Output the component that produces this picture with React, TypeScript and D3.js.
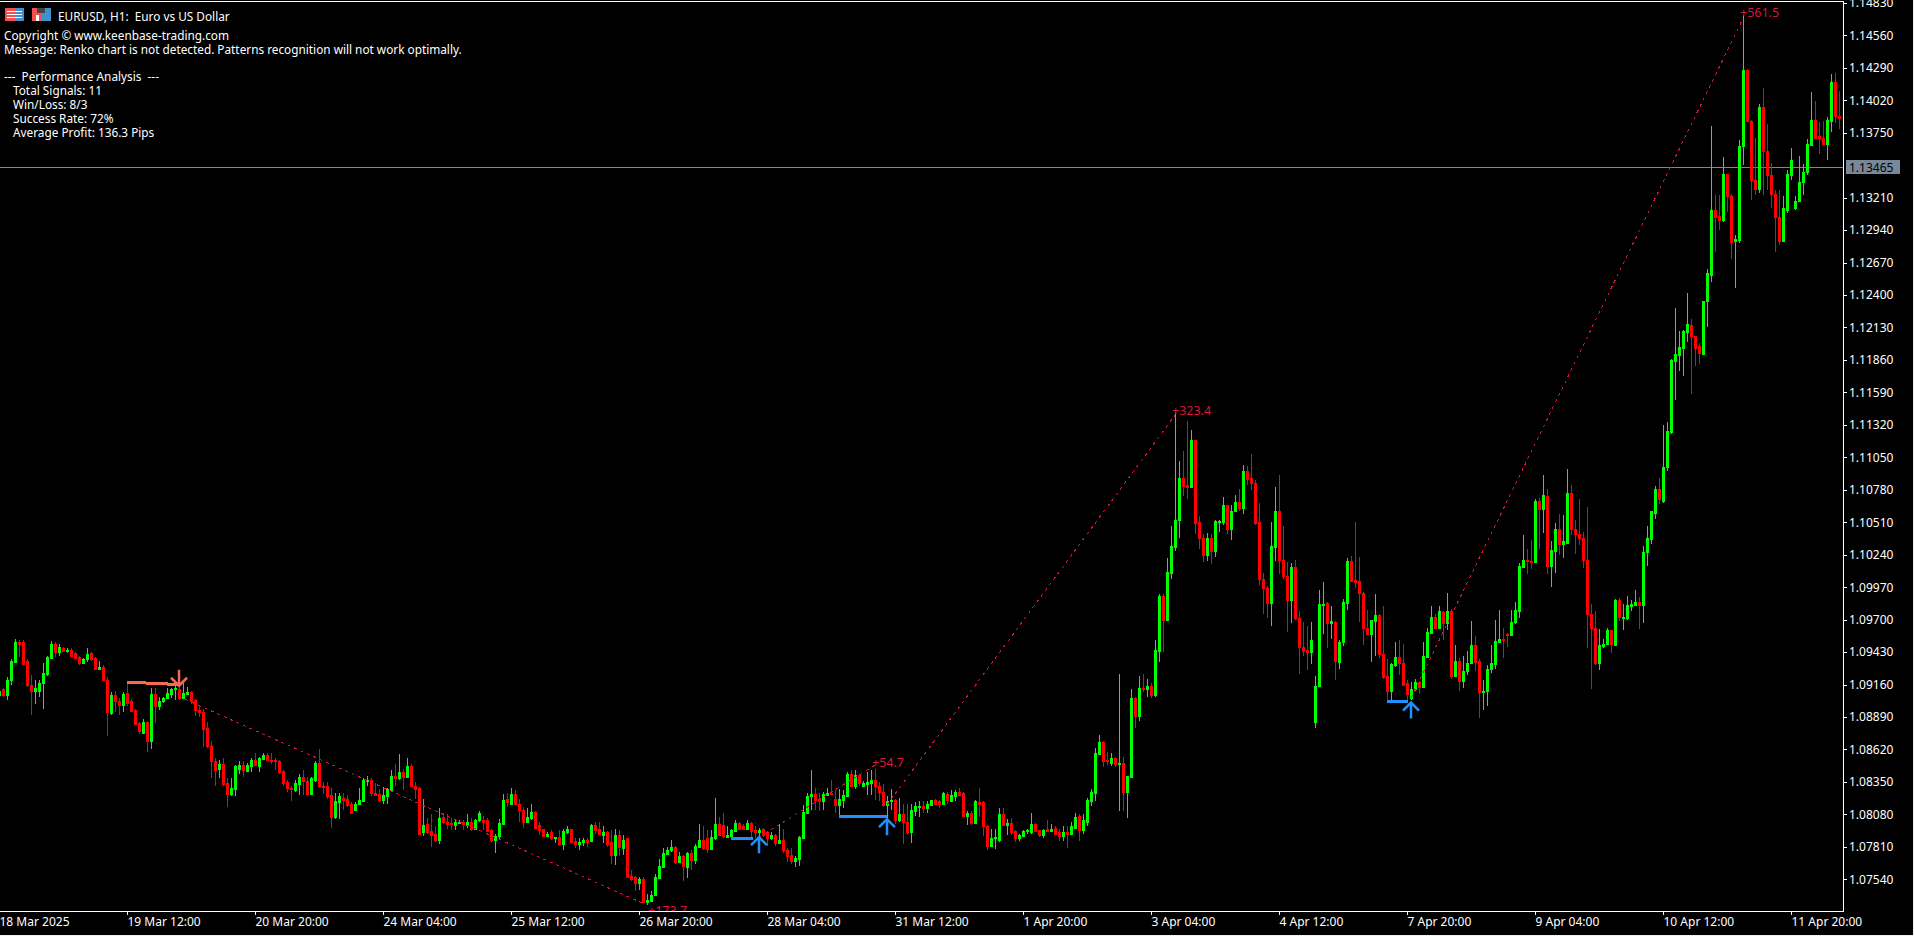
import * as d3 from "d3";
import { useEffect, useRef } from "react";

// EURUSD H1 candles, prices in pips (1.0912 -> 10912), one entry per bar
const opens = [10907,
10912,10907,10920,10935,10951,10951,10936,10916,10911,10911,
10917,10925,10938,10950,10943,10946,10944,10945,10942,10939,
10934,10937,10942,10938,10929,10931,10920,10892,10907,10902,
10899,10909,10902,10895,10884,10876,10885,10869,10908,10898,
10902,10905,10908,10912,10912,10905,10908,10910,10903,10895,
10893,10880,10865,10852,10846,10850,10834,10825,10829,10846,
10849,10844,10848,10853,10848,10854,10857,10853,10853,10852,
10844,10835,10830,10828,10833,10839,10836,10825,10837,10851,
10832,10832,10824,10806,10818,10822,10821,10817,10812,10817,
10819,10836,10837,10826,10825,10820,10823,10828,10840,10838,
10843,10839,10848,10832,10830,10793,10800,10794,10792,10787,
10806,10802,10801,10799,10801,10802,10799,10802,10796,10803,
10803,10803,10795,10787,10790,10800,10821,10817,10825,10817,
10812,10802,10805,10810,10799,10796,10790,10793,10788,10789,
10783,10793,10796,10786,10783,10785,10787,10786,10799,10796,
10791,10793,10785,10774,10791,10780,10788,10757,10756,10751,
10754,10735,10736,10741,10755,10764,10775,10778,10781,10768,
10773,10764,10776,10770,10781,10787,10788,10779,10788,10800,
10799,10789,10790,10794,10801,10798,10796,10801,10795,10793,
10796,10793,10788,10791,10784,10787,10778,10774,10769,10771,
10788,10809,10823,10825,10821,10819,10824,10826,10821,10816,
10820,10823,10842,10832,10841,10832,10833,10834,10837,10832,
10827,10816,10819,10820,10803,10808,10802,10793,10811,10814,
10815,10813,10816,10820,10819,10817,10825,10819,10823,10827,
10826,10807,10809,10801,10818,10818,10798,10782,10788,10787,
10808,10799,10801,10794,10788,10790,10794,10793,10800,10795,
10791,10796,10794,10797,10793,10790,10793,10792,10797,10807,
10795,10802,10819,10826,10858,10868,10853,10851,10855,10850,
10851,10827,10839,10905,10890,10913,10912,10915,10907,10944,
10990,10970,11009,11030,11053,11088,11082,11080,11119,11051,
11038,11024,11038,11027,11051,11051,11065,11045,11060,11068,
11063,11094,11088,11084,11051,11004,10996,10984,11030,11060,
11020,11006,10986,11014,10971,10947,10945,10943,10885,10915,
10982,10984,10967,10968,10935,10951,10984,11019,11003,11002,
10992,10963,10958,10969,10974,10941,10923,10911,10932,10939,
10934,10917,10905,10912,10918,10914,10939,10959,10972,10963,
10976,10967,10977,10923,10936,10919,10927,10934,10949,10936,
10910,10911,10929,10933,10951,10954,10958,10957,10968,10977,
11014,11020,11019,11018,11069,11062,11073,11015,11027,11045,
11033,11034,11075,11045,11041,11038,11020,10975,10963,10934,
10948,10950,10961,10949,10986,10971,10971,10981,10982,10985,
10982,11026,11037,11059,11079,11069,11097,11126,11185,11190,
11196,11209,11215,11206,11198,11191,11235,11257,11311,11306,
11302,11341,11322,11285,11286,11364,11427,11385,11336,11328,
11396,11360,11340,11324,11305,11285,11311,11340,11312,11318,
11334,11342,11365,11386,11372,11371,11366,11385,11417,11389];

const highs = [10912,
10913,10922,10937,10954,10953,10953,10937,10924,10920,10920,
10934,10940,10952,10951,10950,10947,10946,10946,10943,10940,
10938,10946,10943,10939,10936,10932,10922,10910,10911,10905,
10910,10917,10904,10896,10885,10887,10886,10913,10913,10906,
10906,10913,10913,10916,10917,10917,10914,10911,10904,10899,
10896,10885,10869,10855,10853,10855,10838,10838,10849,10852,
10852,10851,10855,10859,10856,10859,10859,10859,10855,10853,
10845,10837,10832,10837,10842,10845,10839,10839,10852,10862,
10835,10835,10830,10826,10826,10826,10824,10818,10818,10830,
10838,10840,10838,10834,10829,10831,10830,10845,10850,10858,
10846,10855,10850,10835,10831,10821,10805,10808,10798,10813,
10809,10808,10805,10803,10803,10803,10808,10805,10804,10811,
10807,10805,10796,10792,10804,10825,10826,10830,10828,10821,
10814,10813,10817,10811,10802,10796,10793,10795,10789,10795,
10796,10798,10796,10788,10788,10788,10788,10800,10802,10802,
10798,10794,10795,10796,10795,10791,10788,10762,10757,10756,
10756,10742,10744,10758,10771,10780,10781,10787,10782,10777,
10774,10777,10778,10783,10800,10798,10795,10795,10822,10806,
10809,10798,10796,10803,10802,10800,10803,10802,10798,10797,
10797,10794,10793,10792,10800,10796,10780,10780,10773,10790,
10816,10826,10845,10830,10826,10827,10830,10837,10828,10829,
10828,10843,10845,10845,10842,10836,10843,10845,10846,10835,
10833,10823,10829,10821,10822,10817,10817,10817,10818,10819,
10819,10819,10820,10821,10820,10827,10827,10828,10828,10830,
10827,10811,10811,10820,10830,10819,10799,10796,10796,10813,
10813,10804,10805,10795,10792,10795,10796,10809,10801,10795,
10796,10803,10800,10798,10796,10798,10798,10802,10809,10808,
10808,10822,10829,10863,10874,10869,10860,10859,10856,10925,
10856,10840,10912,10906,10923,10925,10921,10917,10953,10991,
10991,11021,11048,11143,11102,11110,11135,11128,11119,11056,
11041,11042,11041,11053,11053,11072,11065,11065,11074,11079,
11099,11098,11108,11086,11067,11009,10998,11051,11080,11090,
11048,11018,11017,11020,10977,10968,10965,10968,10923,10995,
11001,10985,10981,10969,10953,10987,11021,11023,11051,11022,
10993,10978,10970,10991,10975,10981,10937,10934,10951,10953,
10950,10920,10918,10921,10919,10951,10963,10981,10975,10981,
10977,10992,10979,10949,10938,10940,10944,10969,10956,10937,
10920,10932,10949,10970,10978,10963,10959,10978,10985,11017,
11040,11029,11036,11070,11071,11090,11079,11035,11050,11058,
11057,11095,11082,11053,11070,11043,11064,10983,10977,10962,
10954,10963,10961,10987,10988,10983,10990,10986,10995,10989,
11031,11048,11060,11081,11088,11132,11134,11187,11229,11210,
11211,11242,11220,11206,11200,11235,11262,11381,11323,11323,
11355,11341,11324,11290,11369,11473,11428,11386,11371,11399,
11412,11382,11350,11327,11327,11322,11344,11362,11322,11356,
11349,11370,11409,11401,11384,11385,11388,11424,11425,11410];

const lows = [10905,
10906,10903,10916,10934,10939,10932,10914,10891,10900,10906,
10896,10923,10938,10939,10940,10943,10942,10940,10937,10932,
10933,10935,10936,10928,10928,10919,10873,10891,10893,10891,
10893,10898,10893,10882,10875,10875,10860,10862,10884,10895,
10901,10904,10905,10903,10903,10904,10907,10900,10890,10889,
10864,10863,10838,10832,10838,10832,10814,10823,10823,10842,
10839,10843,10843,10848,10843,10853,10852,10850,10845,10842,
10832,10827,10819,10827,10824,10824,10824,10824,10835,10830,
10825,10821,10797,10804,10804,10812,10814,10808,10811,10816,
10818,10832,10823,10824,10818,10817,10817,10828,10832,10837,
10828,10838,10832,10821,10792,10790,10792,10781,10785,10783,
10800,10796,10795,10795,10800,10795,10797,10794,10795,10802,
10795,10793,10785,10776,10787,10799,10814,10816,10816,10802,
10797,10801,10803,10796,10791,10789,10789,10787,10784,10782,
10778,10792,10784,10780,10778,10782,10781,10785,10792,10791,
10784,10781,10767,10766,10773,10774,10755,10753,10744,10745,
10734,10733,10735,10740,10754,10764,10774,10777,10767,10768,
10753,10755,10762,10767,10781,10778,10776,10778,10787,10790,
10788,10788,10787,10793,10796,10795,10796,10789,10788,10785,
10789,10782,10787,10782,10783,10776,10768,10767,10764,10765,
10788,10809,10812,10812,10811,10812,10823,10824,10809,10806,
10813,10823,10831,10829,10832,10831,10824,10824,10820,10819,
10814,10805,10812,10800,10802,10783,10792,10784,10807,10806,
10809,10809,10816,10816,10813,10816,10817,10819,10819,10823,
10806,10799,10799,10800,10806,10790,10778,10781,10779,10785,
10798,10791,10791,10785,10786,10789,10792,10792,10793,10789,
10788,10794,10793,10792,10786,10786,10780,10791,10796,10786,
10792,10798,10815,10819,10857,10847,10849,10848,10847,10811,
10811,10805,10838,10880,10886,10910,10906,10905,10906,10935,
10943,10970,11004,11027,11038,11073,11070,11080,11041,11029,
11018,11019,11016,11022,11043,11049,11041,11036,11060,11060,
11058,11082,11078,11049,10999,10975,10971,10965,11019,11008,
11004,10960,10967,10970,10925,10940,10928,10933,10880,10915,
10958,10946,10954,10920,10929,10948,10978,11001,10996,10968,
10949,10957,10935,10940,10938,10921,10903,10903,10931,10924,
10916,10903,10903,10911,10908,10914,10939,10958,10962,10962,
10953,10961,10921,10922,10911,10913,10924,10933,10927,10888,
10895,10898,10926,10929,10951,10938,10947,10956,10966,10971,
11013,11008,11012,11017,11029,11042,11008,10997,11009,11024,
11021,11034,11040,11025,11032,11013,10946,10912,10932,10928,
10946,10949,10942,10949,10969,10961,10970,10977,10981,10962,
10967,11015,11033,11054,11066,11067,11094,11124,11153,11177,
11173,11201,11158,11181,11183,11190,11213,11251,11276,11294,
11301,11309,11270,11246,11283,11348,11384,11319,11323,11325,
11323,11327,11312,11276,11282,11284,11308,11336,11311,11317,
11323,11340,11364,11371,11357,11365,11352,11376,11383,11378];

const closes = [10911,
10907,10920,10936,10951,10950,10933,10916,10911,10913,10917,
10926,10939,10950,10943,10947,10944,10945,10940,10938,10934,
10937,10941,10937,10929,10931,10920,10893,10907,10902,10899,
10908,10901,10894,10883,10877,10885,10869,10908,10898,10902,
10905,10909,10912,10913,10905,10909,10910,10902,10895,10893,
10879,10865,10852,10845,10850,10833,10825,10830,10848,10849,
10845,10849,10853,10849,10855,10857,10853,10852,10852,10843,
10834,10830,10829,10834,10839,10836,10825,10838,10851,10832,
10831,10823,10806,10819,10823,10820,10816,10809,10817,10820,
10837,10837,10826,10824,10820,10824,10829,10840,10838,10843,
10839,10848,10832,10829,10792,10799,10793,10791,10787,10805,
10802,10800,10800,10802,10802,10800,10802,10796,10803,10809,
10802,10794,10787,10790,10801,10820,10818,10825,10817,10812,
10802,10806,10810,10797,10795,10790,10792,10788,10789,10783,
10794,10796,10785,10783,10785,10787,10785,10799,10795,10792,
10793,10783,10774,10791,10781,10787,10756,10754,10751,10754,
10735,10737,10741,10756,10765,10776,10778,10781,10768,10773,
10765,10776,10770,10782,10787,10780,10779,10789,10800,10791,
10790,10791,10795,10801,10796,10796,10801,10794,10793,10795,
10791,10788,10791,10784,10787,10778,10773,10769,10772,10789,
10810,10823,10825,10820,10819,10825,10826,10825,10816,10821,
10824,10842,10832,10841,10834,10834,10835,10837,10832,10827,
10816,10819,10820,10803,10808,10802,10793,10812,10815,10815,
10813,10817,10820,10817,10817,10826,10820,10824,10827,10824,
10807,10809,10801,10819,10817,10798,10782,10788,10789,10808,
10799,10801,10793,10788,10791,10794,10795,10800,10794,10791,
10795,10794,10796,10792,10790,10793,10792,10798,10806,10795,
10803,10820,10827,10859,10868,10852,10852,10855,10850,10851,
10827,10840,10905,10890,10913,10912,10915,10907,10945,10990,
10970,11010,11031,11053,11088,11081,11080,11119,11050,11038,
11024,11038,11027,11052,11052,11065,11045,11060,11068,11063,
11094,11087,11084,11050,11004,10996,10984,11031,11060,11020,
11006,10986,11014,10971,10947,10944,10943,10953,10915,10983,
10983,10967,10969,10936,10951,10985,11019,11002,11001,10992,
10963,10958,10970,10974,10941,10922,10911,10933,10939,10934,
10916,10908,10912,10918,10914,10940,10960,10972,10963,10977,
10967,10977,10923,10936,10919,10927,10934,10949,10935,10910,
10911,10929,10934,10952,10954,10953,10957,10968,10978,11015,
11020,11019,11018,11069,11062,11074,11015,11028,11045,11033,
11035,11075,11045,11041,11038,11020,10975,10963,10934,10949,
10950,10961,10950,10986,10972,10972,10982,10983,10985,10982,
11026,11038,11060,11079,11070,11097,11127,11186,11191,11197,
11210,11216,11206,11196,11192,11235,11258,11311,11305,11302,
11341,11322,11284,11287,11364,11427,11385,11336,11328,11396,
11360,11340,11324,11305,11285,11312,11341,11352,11318,11334,
11342,11366,11386,11371,11371,11366,11386,11417,11389,11387];

const priceTicks = [11483, 11456, 11429, 11402, 11375, 11321, 11294, 11267, 11240, 11213, 11186, 11159, 11132, 11105, 11078, 11051, 11024, 10997, 10970, 10943, 10916, 10889, 10862, 10835, 10808, 10781, 10754];
const timeLabels = ["18 Mar 2025", "19 Mar 12:00", "20 Mar 20:00", "24 Mar 04:00", "25 Mar 12:00", "26 Mar 20:00", "28 Mar 04:00", "31 Mar 12:00", "1 Apr 20:00", "3 Apr 04:00", "4 Apr 12:00", "7 Apr 20:00", "9 Apr 04:00", "10 Apr 12:00", "11 Apr 20:00"];
const barsPerLabel = 32;
const currentPrice = 11346.5;

// closed trades: entry bar/price, exit bar/price, profit label
const tradeEntryBars = [45, 190, 222, 353];
const tradeEntryPrices = [10906, 10789, 10816, 10905];
const tradeExitBars = [161, 219, 294, 436];
const tradeExitPrices = [10734, 10849, 11140, 11470];
const tradeProfits = ["+173.7", "+54.7", "+323.4", "+561.5"];
const tradeLabelBars = [163, 219, 294, 436];
const tradeLabelPrices = [10728, 10851, 11144, 11475];

// signal arrows and their swing lines
const signalBars = [45, 190, 222, 353];
const signalPrices = [10915, 10789, 10804, 10901];
const signalDirs = [-1, 1, 1, 1];
const signalColors = ["#f96a55", "#1e90ff", "#1e90ff", "#1e90ff"];
const swingStartBars = [32, 183, 210, 347];
const swingEndBars = [45, 188.5, 222, 352.2];
const swingStartPrices = [10918, 10788, 10806, 10902];
const swingEndPrices = [10916, 10788, 10806, 10902];

const headerLines = ["Copyright © www.keenbase-trading.com", "Message: Renko chart is not detected. Patterns recognition will not work optimally."];
const statsTitle = "---  Performance Analysis  ---";
const statsLines = ["Total Signals: 11", "Win/Loss: 8/3", "Success Rate: 72%", "Average Profit: 136.3 Pips"];

const FONT = "'Noto Sans', sans-serif";

const App = () => {
  const svgRef = useRef<SVGSVGElement>(null);

  useEffect(() => {
    const width = 1914;
    const height = 936;
    const plotRight = 1843;
    const plotBottom = 911;

    const svg = d3.select(svgRef.current);
    svg.selectAll("*").remove();

    const x = d3.scaleLinear().domain([0, 460]).range([-1, 1839]);
    const y = d3.scaleLinear().domain([10754, 11483]).range([879.3, 2.9]);

    svg.append("rect").attr("width", width).attr("height", height).attr("fill", "#000");

    svg.append("defs").append("clipPath").attr("id", "plot")
      .append("rect").attr("x", 0).attr("y", 2).attr("width", plotRight).attr("height", plotBottom - 2);

    const plot = svg.append("g").attr("clip-path", "url(#plot)");

    // current price line sits behind the candles
    plot.append("line")
      .attr("x1", 0).attr("x2", plotRight)
      .attr("y1", Math.round(y(currentPrice)) + 0.5).attr("y2", Math.round(y(currentPrice)) + 0.5)
      .attr("stroke", "#778899");

    // === candles ===
    const candles = plot.append("g").attr("shape-rendering", "crispEdges");
    opens.forEach((o, i) => {
      const c = closes[i];
      const color = c >= o ? "#00ff00" : "#ff0000";
      const px = Math.round(x(i));
      const top = Math.round(y(Math.max(o, c)));
      const bottom = Math.round(y(Math.min(o, c)));
      const hi = Math.round(y(highs[i]));
      const lo = Math.round(y(lows[i]));
      candles.append("rect").attr("x", px).attr("y", hi).attr("width", 1).attr("height", Math.max(1, lo - hi)).attr("fill", color);
      candles.append("rect").attr("x", px - 1).attr("y", top).attr("width", 3).attr("height", Math.max(1, bottom - top + 1)).attr("fill", color);
    });

    // === trade lines and profit labels ===
    tradeEntryBars.forEach((bar, i) => {
      plot.append("line")
        .attr("x1", x(bar)).attr("y1", y(tradeEntryPrices[i]))
        .attr("x2", x(tradeExitBars[i])).attr("y2", y(tradeExitPrices[i]))
        .attr("stroke", "#dc143c")
        .attr("stroke-dasharray", "3 4")
        .attr("shape-rendering", "crispEdges");
      plot.append("text")
        .attr("x", x(tradeLabelBars[i]) - 3)
        .attr("y", y(tradeLabelPrices[i]))
        .attr("dominant-baseline", "central")
        .attr("font-family", FONT)
        .attr("font-size", 12.5)
        .attr("fill", "#dc143c")
        .text(tradeProfits[i]);
    });

    // === swing lines and arrows ===
    swingStartBars.forEach((bar, i) => {
      plot.append("line")
        .attr("x1", x(bar)).attr("y1", y(swingStartPrices[i]))
        .attr("x2", x(swingEndBars[i])).attr("y2", y(swingEndPrices[i]))
        .attr("stroke", signalColors[i])
        .attr("stroke-width", 3)
        .attr("shape-rendering", "crispEdges");
    });
    signalBars.forEach((bar, i) => {
      const ax = x(bar);
      const ay = y(signalPrices[i]);
      const d = signalDirs[i];
      const path = d3.path();
      path.moveTo(ax - 8, ay + d * 8);
      path.lineTo(ax, ay);
      path.lineTo(ax + 8, ay + d * 8);
      path.moveTo(ax, ay);
      path.lineTo(ax, ay + d * 16);
      plot.append("path")
        .attr("d", path.toString())
        .attr("fill", "none")
        .attr("stroke", signalColors[i])
        .attr("stroke-width", 2.5);
    });

    // === axes ===
    const frame = svg.append("g").attr("stroke", "#fff").attr("shape-rendering", "crispEdges");
    frame.append("line").attr("x1", 0).attr("x2", plotRight + 1).attr("y1", 1.5).attr("y2", 1.5);
    frame.append("line").attr("x1", 0).attr("x2", plotRight + 1).attr("y1", plotBottom + 0.5).attr("y2", plotBottom + 0.5);
    frame.append("line").attr("x1", plotRight + 0.5).attr("x2", plotRight + 0.5).attr("y1", 1).attr("y2", plotBottom + 1);

    const yAxis = d3.axisRight(y)
      .tickValues(priceTicks)
      .tickSize(4)
      .tickPadding(2)
      .tickFormat((d) => ((d as number) / 10000).toFixed(5));
    const yGroup = svg.append("g")
      .attr("transform", `translate(${plotRight},0)`)
      .call(yAxis);
    yGroup.select(".domain").remove();
    yGroup.selectAll("line").attr("stroke", "#fff").attr("shape-rendering", "crispEdges");
    yGroup.selectAll("text").attr("fill", "#fff").attr("font-family", FONT).attr("font-size", 12);

    const xAxis = d3.axisBottom(x)
      .tickValues(timeLabels.map((_, i) => i * barsPerLabel))
      .tickSize(4)
      .tickPadding(2)
      .tickFormat((_, i) => timeLabels[i]);
    const xGroup = svg.append("g")
      .attr("transform", `translate(0,${plotBottom})`)
      .call(xAxis);
    xGroup.select(".domain").remove();
    xGroup.selectAll("line").attr("stroke", "#fff").attr("shape-rendering", "crispEdges");
    xGroup.selectAll("text")
      .attr("fill", "#fff")
      .attr("font-family", FONT)
      .attr("font-size", 12)
      .attr("text-anchor", "start");

    // current price tag
    const tagY = Math.round(y(currentPrice));
    svg.append("rect")
      .attr("x", 1846).attr("y", tagY - 7).attr("width", 54).attr("height", 14)
      .attr("fill", "#778899");
    svg.append("text")
      .attr("x", 1849).attr("y", tagY)
      .attr("dominant-baseline", "central")
      .attr("font-family", FONT).attr("font-size", 12).attr("fill", "#000")
      .text((currentPrice / 10000).toFixed(5));

    // === header and comment block ===
    const icons = svg.append("g").attr("shape-rendering", "crispEdges");
    icons.append("rect").attr("x", 5).attr("y", 8).attr("width", 10).attr("height", 13).attr("fill", "#f05050");
    icons.append("rect").attr("x", 15).attr("y", 8).attr("width", 9).attr("height", 13).attr("fill", "#4090d0");
    icons.append("rect").attr("x", 7).attr("y", 11).attr("width", 15).attr("height", 1).attr("fill", "#fff");
    icons.append("rect").attr("x", 7).attr("y", 14).attr("width", 15).attr("height", 1).attr("fill", "#fff");
    icons.append("rect").attr("x", 7).attr("y", 17).attr("width", 15).attr("height", 1).attr("fill", "#fff");
    icons.append("rect").attr("x", 32).attr("y", 8).attr("width", 9).attr("height", 13).attr("fill", "#f05050");
    icons.append("rect").attr("x", 41).attr("y", 8).attr("width", 10).attr("height", 13).attr("fill", "#4090d0");
    icons.append("rect").attr("x", 37).attr("y", 8).attr("width", 8).attr("height", 5).attr("fill", "#444");
    icons.append("rect").attr("x", 36).attr("y", 15).attr("width", 3).attr("height", 6).attr("fill", "#fff");

    const addText = (tx: number, ty: number, s: string) =>
      svg.append("text")
        .attr("x", tx).attr("y", ty)
        .attr("dominant-baseline", "central")
        .attr("font-family", FONT)
        .attr("font-size", 11.8)
        .attr("fill", "#fff")
        .attr("xml:space", "preserve")
        .style("white-space", "pre")
        .text(s);

    addText(58, 16, "EURUSD, H1:  Euro vs US Dollar");
    headerLines.forEach((s, i) => addText(4, 34.5 + i * 14, s));
    addText(4, 76, statsTitle);
    statsLines.forEach((s, i) => addText(13, 90 + i * 14, s));

    // window edge
    const edge = svg.append("g").attr("stroke", "#f0f0f0").attr("shape-rendering", "crispEdges");
    edge.append("line").attr("x1", width - 0.5).attr("x2", width - 0.5).attr("y1", 0).attr("y2", height);
    edge.append("line").attr("x1", 0).attr("x2", width).attr("y1", height - 0.5).attr("y2", height - 0.5);
  }, []);

  return (
    <svg
      ref={svgRef}
      width={1914}
      height={936}
      style={{ position: "fixed", left: 0, top: 0, display: "block" }}
    />
  );
};

export default App;
